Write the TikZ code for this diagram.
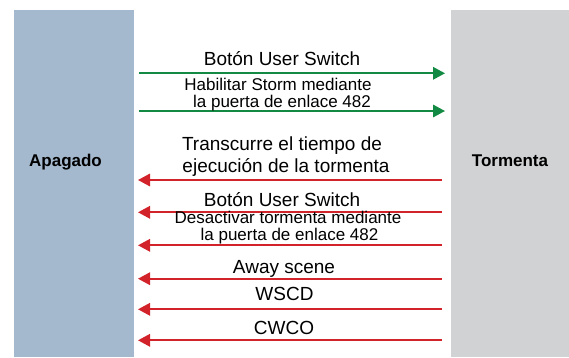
\documentclass[tikz,border=0pt]{standalone}
\usepackage{fontspec}
\setmainfont{Liberation Sans}
\usetikzlibrary{arrows.meta}
\definecolor{boxblue}{HTML}{A4B9CD}
\definecolor{boxgray}{HTML}{D1D2D4}
\definecolor{arrgreen}{HTML}{138A43}
\definecolor{arrred}{HTML}{D2232A}
\tikzset{
  statebox/.style={draw=none,inner sep=0pt,anchor=north west},
  statelabel/.style={inner sep=0pt,anchor=base,font=\fontsize{17}{19}\selectfont\bfseries},
  biglabel/.style={inner sep=0pt,anchor=base,font=\fontsize{19}{22}\selectfont},
  smalllabel/.style={inner sep=0pt,anchor=base,font=\fontsize{17}{19}\selectfont},
  goarrow/.style={draw=arrgreen,line width=1.7pt,-{Triangle[length=12pt,width=12.5pt]}},
  backarrow/.style={draw=arrred,line width=1.7pt,-{Triangle[length=12pt,width=12.5pt]}},
}
\begin{document}
\begin{tikzpicture}[x=1pt,y=-1pt]
\useasboundingbox (0,0) rectangle (569,357);
% state boxes
\node[statebox,fill=boxblue,minimum width=120pt,minimum height=347pt] (apagadobox) at (13.5,10) {};
\node[statebox,fill=boxgray,minimum width=119pt,minimum height=347pt] (tormentabox) at (450.5,10) {};
\node[statelabel] (apagado) at (65.5,166.5) {Apagado};
\node[statelabel] (tormenta) at (510,166.5) {Tormenta};
% endpoints
\coordinate (g1s) at (139,73.3);  \coordinate (g1e) at (445,73.3);
\coordinate (g2s) at (139,111);   \coordinate (g2e) at (445,111);
\coordinate (r1s) at (442,180);   \coordinate (r1e) at (138,180);
\coordinate (r2s) at (442,212.3); \coordinate (r2e) at (138,212.3);
\coordinate (r3s) at (442,245.3); \coordinate (r3e) at (138,245.3);
\coordinate (r4s) at (442,278.7); \coordinate (r4e) at (138,278.7);
\coordinate (r5s) at (442,309.3); \coordinate (r5e) at (138,309.3);
\coordinate (r6s) at (442,340.3); \coordinate (r6e) at (138,340.3);
% arrows
\draw[goarrow] (g1s) -- (g1e);
\draw[goarrow] (g2s) -- (g2e);
\draw[backarrow] (r1s) -- (r1e);
\draw[backarrow] (r2s) -- (r2e);
\draw[backarrow] (r3s) -- (r3e);
\draw[backarrow] (r4s) -- (r4e);
\draw[backarrow] (r5s) -- (r5e);
\draw[backarrow] (r6s) -- (r6e);
% labels
\node[biglabel] (l1) at (282,65.7) {Botón User Switch};
\node[smalllabel] (l2a) at (278,90.7) {Habilitar Storm mediante};
\node[smalllabel] (l2b) at (282,107.3) {la puerta de enlace 482};
\node[biglabel] (l3a) at (282,150.7) {Transcurre el tiempo de};
\node[biglabel] (l3b) at (286,172.7) {ejecución de la tormenta};
\node[biglabel] (l4) at (282,206) {Botón User Switch};
\node[smalllabel] (l5a) at (288,223) {Desactivar tormenta mediante};
\node[smalllabel] (l5b) at (289.5,240) {la puerta de enlace 482};
\node[biglabel] (l6) at (284,273) {Away scene};
\node[biglabel] (l7) at (284.5,300.3) {WSCD};
\node[biglabel] (l8) at (284,334.7) {CWCO};
\end{tikzpicture}
\end{document}
